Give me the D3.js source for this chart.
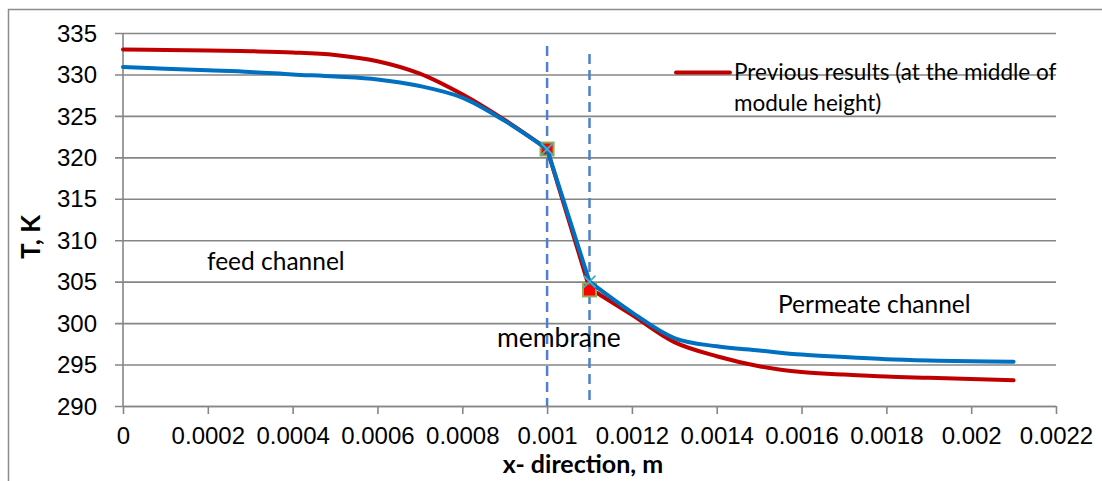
<!DOCTYPE html>
<html><head><meta charset="utf-8">
<script src="https://cdn.jsdelivr.net/npm/d3@7"></script>
<style>
html,body{margin:0;padding:0;background:#fff;}
svg{display:block;font-family:Lato,"Open Sans",sans-serif;}
</style></head>
<body>
<svg id="chart" width="1102" height="481"></svg>
<script>
// ---- data ----
const xValues = [0,0.0001,0.0002,0.0003,0.0004,0.0005,0.0006,0.0007,0.0008,0.0009,0.001,
                 0.0011,0.0012,0.0013,0.0014,0.0015,0.0016,0.0017,0.0018,0.0019,0.002,0.0021];
const previousResults = [333.0,332.95,332.9,332.8,332.65,332.35,331.6,330.1,327.6,324.5,321.0,
                         304.2,301.0,297.7,296.0,294.8,294.1,293.8,293.55,293.4,293.25,293.1];
const currentResults  = [330.9,330.7,330.5,330.3,330.0,329.75,329.4,328.6,327.2,324.4,321.0,
                         305.0,301.3,298.2,297.2,296.7,296.2,295.9,295.65,295.5,295.4,295.35];
const membraneX = [0.001, 0.0011];
const squareMarkerT = [321, 304];
const crossMarkerT = [321, 305];
const xTicks = [0,0.0002,0.0004,0.0006,0.0008,0.001,0.0012,0.0014,0.0016,0.0018,0.002,0.0022];
const xTickLabels = ["0","0.0002","0.0004","0.0006","0.0008","0.001","0.0012","0.0014","0.0016","0.0018","0.002","0.0022"];
const yTicks = [290,295,300,305,310,315,320,325,330,335];
const legendLabel = ["Previous results (at the middle of","module height)"];
const regionLabels = ["feed channel","membrane","Permeate channel"];

// ---- layout ----
const svg = d3.select("#chart");
const L = 123, R = 1056, T = 33, B = 406;
const x = d3.scaleLinear().domain([0,0.0022]).range([L,R]);
const y = d3.scaleLinear().domain([290,335]).range([B,T]);
const grid = "#868686";
const FS = 24;

// outer chart border
svg.append("path").attr("d","M8.5,481 V9.5 H1102").attr("fill","none").attr("stroke","#8c8c8c").attr("stroke-width",1.5);

// gridlines + y axis
const yAxis = d3.axisLeft(y).tickValues(yTicks).tickSize(R-L+8).tickPadding(18).tickFormat(d3.format("d"));
const gy = svg.append("g").attr("transform",`translate(${R},0)`).call(yAxis);
gy.select(".domain").remove();
gy.selectAll(".tick line").attr("stroke",grid).attr("stroke-width",1.6);
gy.selectAll(".tick text").attr("font-size",FS).attr("fill","#000").attr("dy","0.34em")
  .attr("x", -(R-L+8) - 18);

// y axis line
svg.append("line").attr("x1",L).attr("x2",L).attr("y1",T).attr("y2",B).attr("stroke",grid).attr("stroke-width",1.6);

// x axis
const xAxis = d3.axisBottom(x).tickValues(xTicks).tickSize(8).tickPadding(13)
  .tickFormat((d,i)=>xTickLabels[i]);
const gx = svg.append("g").attr("transform",`translate(0,${B})`).call(xAxis);
gx.select(".domain").attr("stroke",grid).attr("stroke-width",1.6).attr("d",`M${L},0.5H${R}`);
gx.selectAll(".tick line").attr("stroke",grid).attr("stroke-width",1.6);
gx.selectAll(".tick text").attr("font-size",FS).attr("fill","#000");

// membrane dashed lines
const dashTop = [46, 54];
svg.selectAll(".memb").data(membraneX).join("line")
  .attr("x1",d=>x(d)).attr("x2",d=>x(d))
  .attr("y1",(d,i)=>dashTop[i]).attr("y2",B)
  .attr("stroke","#4f81c8").attr("stroke-width",2.5).attr("stroke-dasharray","10,6");

// series
const pts = arr => xValues.map((v,i)=>({x:v,t:arr[i]}));
const line = d3.line().x(d=>x(d.x)).y(d=>y(d.t)).curve(d3.curveCatmullRom.alpha(0.5));
const lineStraight = d3.line().x(d=>x(d.x)).y(d=>y(d.t));
function drawSeries(arr, color){
  const p = pts(arr);
  const feed = p.filter(d=>d.x<=0.001+1e-9);
  const memb = p.filter(d=>d.x>=0.001-1e-9 && d.x<=0.0011+1e-9);
  const perm = p.filter(d=>d.x>=0.0011-1e-9);
  const g = svg.append("g").attr("fill","none").attr("stroke",color).attr("stroke-width",4)
    .attr("stroke-linejoin","round").attr("stroke-linecap","round");
  g.append("path").attr("d",line(feed));
  g.append("path").attr("d",lineStraight(memb));
  g.append("path").attr("d",line(perm));
}
drawSeries(previousResults, "#c00000");

// square markers
svg.selectAll(".sq").data(membraneX).join("rect")
  .attr("x",d=>x(d)-6.5).attr("y",(d,i)=>y(squareMarkerT[i])-6.5)
  .attr("width",13).attr("height",13)
  .attr("fill","#ff0000").attr("stroke","#8eb050").attr("stroke-width",2);

drawSeries(currentResults, "#0070c0");

// cross markers
const cross = svg.append("g").attr("stroke","#4bacc6").attr("stroke-width",1.8);
membraneX.forEach((d,i)=>{
  const cx = x(d), cy = y(crossMarkerT[i]), s = 6;
  cross.append("line").attr("x1",cx-s).attr("y1",cy-s).attr("x2",cx+s).attr("y2",cy+s);
  cross.append("line").attr("x1",cx-s).attr("y1",cy+s).attr("x2",cx+s).attr("y2",cy-s);
});

// legend
svg.append("line").attr("x1",676).attr("x2",730).attr("y1",72.5).attr("y2",72.5)
  .attr("stroke","#c00000").attr("stroke-width",4).attr("stroke-linecap","round");
svg.selectAll(".leg").data(legendLabel).join("text")
  .attr("x",734).attr("y",(d,i)=>80+i*31).attr("font-size",22.5).attr("fill","#000").text(d=>d);

// region labels
const regionPos = [[207,270],[497,347],[778,313]];
const regionSize = [FS+0.5, FS+2.5, FS+0.5];
svg.selectAll(".reg").data(regionLabels).join("text")
  .attr("x",(d,i)=>regionPos[i][0]).attr("y",(d,i)=>regionPos[i][1])
  .attr("font-size",(d,i)=>regionSize[i]).attr("fill","#000").text(d=>d);

// axis titles
svg.append("text").attr("x",583).attr("y",473).attr("text-anchor","middle")
  .attr("font-size",25).attr("font-weight","bold").text("x- direction, m");
svg.append("text").attr("transform","translate(40,237) rotate(-90)").attr("text-anchor","middle")
  .attr("font-size",26).attr("font-weight","bold").text("T, K");
</script>
</body></html>
